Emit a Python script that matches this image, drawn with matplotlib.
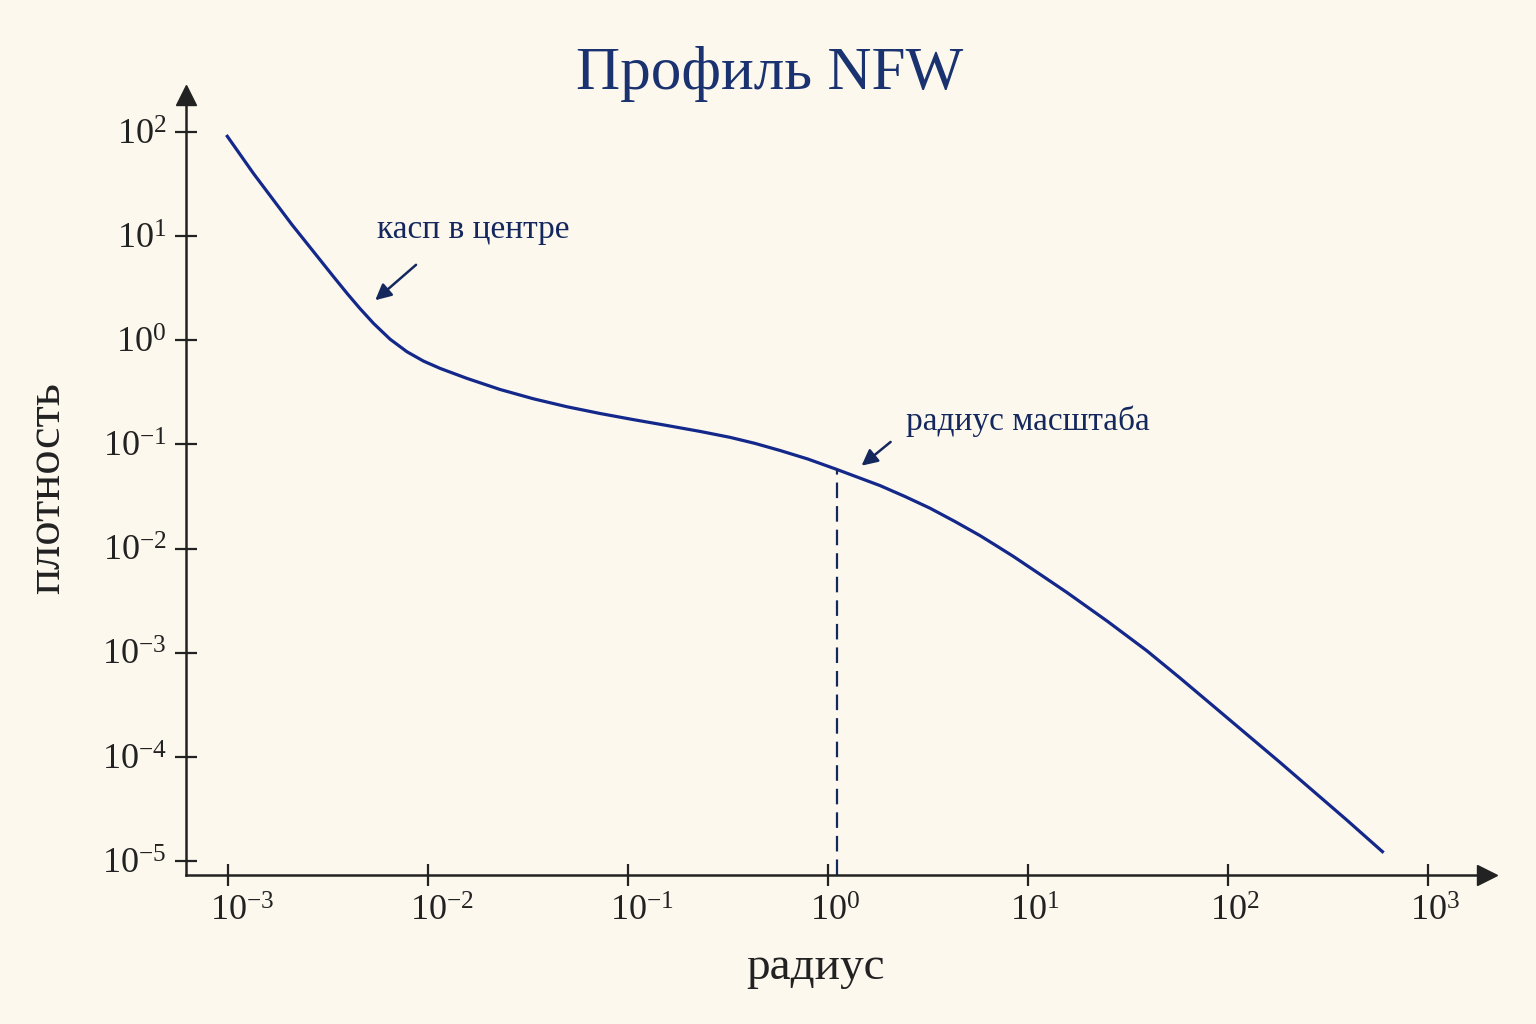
import matplotlib
matplotlib.use("Agg")
import matplotlib.pyplot as plt
import matplotlib.transforms as mtransforms
import numpy as np


# curve (log10 of radius, log10 of density)
log_radius = [-3.008, -2.872, -2.68, -2.472, -2.40, -2.34, -2.272, -2.189, -2.105, -2.022,
              -1.939, -1.806, -1.64, -1.472, -1.305, -1.139, -0.972, -0.805, -0.639, -0.489,
              -0.364, -0.239, -0.10, 0.045, 0.261, 0.386, 0.511, 0.636, 0.761, 0.845,
              0.928, 1.06, 1.195, 1.40, 1.595, 1.76, 1.93, 2.26, 2.595, 2.78]
log_density = [1.971, 1.60, 1.11, 0.61, 0.44, 0.305, 0.162, 0.01, -0.11, -0.20,
               -0.27, -0.365, -0.472, -0.562, -0.638, -0.703, -0.762, -0.818, -0.875, -0.932,
               -0.99, -1.058, -1.14, -1.24, -1.395, -1.50, -1.612, -1.74, -1.875, -1.975,
               -2.075, -2.245, -2.42, -2.70, -2.98, -3.24, -3.515, -4.05, -4.605, -4.92]

scale_radius = 1.11
scale_density = 10 ** -1.24

x_ticks = [1e-3, 1e-2, 1e-1, 1e0, 1e1, 1e2, 1e3]
x_tick_labels = [r"$10^{-3}$", r"$10^{-2}$", r"$10^{-1}$", r"$10^{0}$",
                 r"$10^{1}$", r"$10^{2}$", r"$10^{3}$"]
y_ticks = [1e2, 1e1, 1e0, 1e-1, 1e-2, 1e-3, 1e-4, 1e-5]
y_tick_labels = [r"$10^{2}$", r"$10^{1}$", r"$10^{0}$", r"$10^{-1}$",
                 r"$10^{-2}$", r"$10^{-3}$", r"$10^{-4}$", r"$10^{-5}$"]

BACKGROUND = "#fcf8ee"
CURVE = "#13288a"
NAVY = "#14285e"
INK = "#222222"

plt.rcParams["font.family"] = ["Liberation Serif", "DejaVu Serif"]
plt.rcParams["mathtext.fontset"] = "custom"
plt.rcParams["mathtext.rm"] = "Liberation Serif"
plt.rcParams["mathtext.it"] = "Liberation Serif:italic"

figure = plt.figure(figsize=(15.36, 10.24), dpi=100, facecolor=BACKGROUND)
axes = figure.add_axes([186 / 1536, 1 - 875 / 1024, (1487 - 186) / 1536, (875 - 95) / 1024])
axes.set_facecolor(BACKGROUND)
axes.set_xscale("log")
axes.set_yscale("log")
axes.set_xlim(10 ** -3.21, 10 ** 3.297)
axes.set_ylim(10 ** -5.134, 10 ** 2.355)

axes.plot(10 ** np.array(log_radius), 10 ** np.array(log_density),
          color=CURVE, linewidth=2.3, solid_capstyle="butt", solid_joinstyle="round")
axes.plot([scale_radius, scale_radius], [10 ** -5.134, scale_density],
          color=NAVY, linewidth=1.6, linestyle=(0, (7, 3.6)))

for side in ("top", "right"):
    axes.spines[side].set_visible(False)
for side in ("left", "bottom"):
    axes.spines[side].set_linewidth(1.8)
    axes.spines[side].set_color(INK)

# arrow heads on the axes
axes.plot(1, 0, marker=">", markersize=14, color=INK, transform=axes.transAxes, clip_on=False)
axes.plot(0, 1, marker="^", markersize=14, color=INK, transform=axes.transAxes, clip_on=False)

axes.set_xticks(x_ticks, labels=x_tick_labels)
axes.set_yticks(y_ticks, labels=y_tick_labels)
axes.minorticks_off()
axes.tick_params(axis="both", direction="inout", length=16, width=1.6, color=INK,
                 labelsize=26, labelcolor=INK)
axes.tick_params(axis="x", pad=7)
axes.tick_params(axis="y", pad=6)

# centre the "10" of each x label on its tick, exponent hanging to the right
shift = mtransforms.ScaledTranslation(-13 / 72, 0, figure.dpi_scale_trans)
for label in axes.get_xticklabels():
    label.set_horizontalalignment("left")
    label.set_transform(label.get_transform() + shift)

axes.text(10 ** -2.253, 10 ** 1.059, "касп в центре", fontsize=24, color=NAVY,
          ha="left", va="center")
axes.annotate("", xy=(10 ** -2.274, 10 ** 0.367), xytext=(10 ** -2.049, 10 ** 0.742),
              arrowprops=dict(arrowstyle="-|>", color=NAVY, lw=1.8, mutation_scale=24))
axes.text(10 ** 0.392, 10 ** -0.776, "радиус масштаба", fontsize=24, color=NAVY,
          ha="left", va="center")
axes.annotate("", xy=(10 ** 0.158, 10 ** -1.221), xytext=(10 ** 0.325, 10 ** -0.959),
              arrowprops=dict(arrowstyle="-|>", color=NAVY, lw=1.8, mutation_scale=24))

figure.text(0.501, 0.928, "Профиль NFW", fontsize=44, color="#1b3270",
            ha="center", va="center")
figure.text(0.531, 0.055, "радиус", fontsize=34, color=INK, ha="center", va="center")
figure.text(0.031, 0.523, "плотность", fontsize=35, color=INK, ha="center", va="center",
            rotation=90)

figure.savefig("out.png", dpi=100, facecolor=BACKGROUND)
